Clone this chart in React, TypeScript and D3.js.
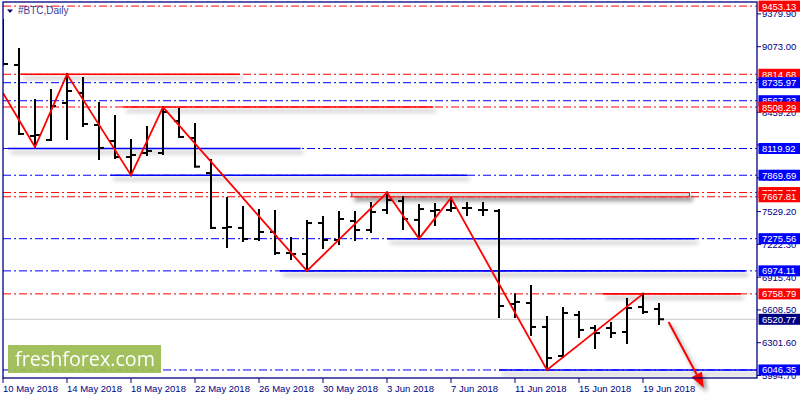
import React from 'react';
import * as d3 from 'd3';

// daily OHLC, 10 May 2018 .. 20 Jun 2018
const opens = [9230, 8902, 8237, 8200, 8546, 8640, 8340, 8190, 8040, 8078, 8078, 8377, 8218, 7890, 7376, 7376, 7273, 7338, 7141, 7132, 7422, 7263, 7441, 7357, 7544, 7628, 7451, 7535, 7544, 7563, 7544, 7535, 6664, 6673, 6449, 6177, 6561, 6439, 6439, 6402, 6636, 6617];
const highs = [9323, 9051, 8574, 8668, 8814, 8780, 8546, 8424, 8200, 8321, 8508, 8490, 8349, 8012, 7657, 7572, 7544, 7535, 7282, 7441, 7479, 7525, 7525, 7610, 7707, 7666, 7591, 7600, 7657, 7610, 7610, 7544, 6755, 6833, 6542, 6627, 6589, 6458, 6486, 6711, 6759, 6664];
const lows = [8902, 8256, 8134, 8200, 8209, 8331, 8022, 8031, 7870, 8059, 8068, 8228, 7950, 7376, 7198, 7254, 7263, 7132, 7085, 6974, 7188, 7226, 7263, 7338, 7516, 7366, 7276, 7404, 7535, 7497, 7497, 6542, 6542, 6374, 6046, 6168, 6355, 6252, 6355, 6299, 6580, 6477];
const closes = [8911, 8256, 8246, 8518, 8658, 8349, 8125, 8040, 8059, 8097, 8462, 8228, 7950, 7376, 7385, 7273, 7338, 7141, 7132, 7422, 7263, 7460, 7357, 7525, 7638, 7460, 7553, 7544, 7563, 7563, 7544, 6645, 6683, 6449, 6158, 6580, 6421, 6392, 6392, 6626, 6589, 6521];

// one label every 4 bars
const xTickLabels = ['10 May 2018', '14 May 2018', '18 May 2018', '22 May 2018', '26 May 2018', '30 May 2018', '3 Jun 2018', '7 Jun 2018', '11 Jun 2018', '15 Jun 2018', '19 Jun 2018'];
const yTickLabels = [9379.9, 9073.0, 8766.1, 8459.2, 8152.3, 7845.4, 7529.2, 7222.3, 6915.4, 6608.5, 6301.6, 5994.7];

// horizontal levels
const levelPrices = [9453.13, 8814.68, 8735.97, 8567.23, 8508.29, 8119.92, 7869.69, 7707.37, 7667.81, 7275.56, 6974.11, 6758.79, 6046.35];
const levelColors = ['red', 'red', 'blue', 'blue', 'red', 'blue', 'blue', 'red', 'red', 'blue', 'blue', 'red', 'blue'];

// solid trend segments on some of the levels (bar index from..to)
const segPrices = [8814.68, 8508.29, 8119.92, 7869.69, 7275.56, 6974.11, 6758.79, 6046.35];
const segColors = ['red', 'red', 'blue', 'blue', 'blue', 'blue', 'red', 'blue'];
const segFrom = [1.1, 7.5, 0.3, 6.7, 24, 17.3, 37.5, 31];
const segTo = [14.8, 26.9, 18.6, 29, 43.25, 46.4, 46.1, 47.1];

// rectangle zone
const zoneTop = 7707.37;
const zoneBottom = 7667.81;
const zoneFrom = 21.8;
const zoneTo = 42.9;

// zigzag pivots
const zigIdx = [0, 2, 4, 8, 10, 19, 24, 26, 28, 34, 40];
const zigPrice = [8640, 8134, 8814, 7870, 8508, 6974, 7707, 7276, 7657, 6046, 6759];

// forecast arrow
const arrowIdx = [41.6, 43.8];
const arrowPrice = [6495, 5880];

const currentPrice = 6520.77;

const left = 3;
const right = 757;
const top = 2;
const bottom = 378;

const x = d3.scaleLinear().domain([0, 41]).range([3, 659]);
const y = d3.scaleLinear().domain([6301.6, 9073]).range([342.7, 46.7]);

const navy = '#000080';
const dashDot = '8,3,2,3';
const font = '"Liberation Sans", Arial, sans-serif';

const App = () => {
  const ax = x(arrowIdx[0]);
  const ay = y(arrowPrice[0]);
  const bx = x(arrowIdx[1]);
  const by = y(arrowPrice[1]);
  const ang = Math.atan2(by - ay, bx - ax);
  const headLen = 15;
  const headW = 6;
  const hx = bx - headLen * Math.cos(ang);
  const hy = by - headLen * Math.sin(ang);
  const head = [
    [bx, by],
    [hx + headW * Math.sin(ang), hy - headW * Math.cos(ang)],
    [hx - headW * Math.sin(ang), hy + headW * Math.cos(ang)],
  ];

  const zig = d3
    .line<number>()
    .x((d) => x(zigIdx[d]))
    .y((d) => y(zigPrice[d]));

  return (
    <svg width={800} height={400} style={{ position: 'absolute', left: 0, top: 0, background: '#fff' }}>
      <defs>
        <clipPath id="plot">
          <rect x={left} y={top} width={right - left} height={bottom - top} />
        </clipPath>
        <filter id="shadow" filterUnits="userSpaceOnUse" x={0} y={0} width={800} height={400}>
          <feDropShadow dx={3} dy={4} stdDeviation={2} floodColor="#000" floodOpacity={0.42} />
        </filter>
      </defs>
      <rect x={0} y={0} width={800} height={400} fill="#fff" />

      <g clipPath="url(#plot)">
        {/* dash-dot levels */}
        {levelPrices.map((p, i) => (
          <line key={'lv' + i} x1={left} x2={right} y1={y(p)} y2={y(p)} stroke={levelColors[i]} strokeDasharray={dashDot} strokeWidth={1} />
        ))}
        <line x1={left} x2={right} y1={y(currentPrice)} y2={y(currentPrice)} stroke="#c8c8c8" strokeWidth={1} />

        {/* solid segments */}
        {segPrices.map((p, i) => (
          <line key={'sg' + i} x1={x(segFrom[i])} x2={x(segTo[i])} y1={y(p)} y2={y(p)} stroke={segColors[i]} strokeWidth={1.6} filter="url(#shadow)" />
        ))}
        <rect
          x={x(zoneFrom)}
          y={y(zoneTop)}
          width={x(zoneTo) - x(zoneFrom)}
          height={y(zoneBottom) - y(zoneTop)}
          fill="#dcdcdc"
          stroke="red"
          strokeWidth={1}
          filter="url(#shadow)"
        />

        {/* bars */}
        {opens.map((o, i) => {
          const cx = x(i);
          return (
            <g key={'b' + i} stroke="#000" strokeWidth={2}>
              <line x1={cx} x2={cx} y1={y(highs[i]) - 1} y2={y(lows[i]) + 1} />
              <line x1={cx - 5} x2={cx} y1={y(o)} y2={y(o)} />
              <line x1={cx} x2={cx + 5} y1={y(closes[i])} y2={y(closes[i])} />
            </g>
          );
        })}

        <path d={zig(d3.range(zigIdx.length)) || ''} fill="none" stroke="red" strokeWidth={1.8} />
      </g>

      {/* arrow */}
      <g filter="url(#shadow)">
        <line x1={ax} y1={ay} x2={hx} y2={hy} stroke="red" strokeWidth={2} />
        <polygon points={head.map((d) => d.join(',')).join(' ')} fill="red" />
      </g>

      {/* logo */}
      <g opacity={0.92}>
        <rect x={8} y={345} width={153} height={28} fill="#9bbb50" />
        <text x={15} y={366} fill="#fff" fontSize={20} fontFamily='"Open Sans", "DejaVu Sans", sans-serif' textLength={140} lengthAdjust="spacingAndGlyphs">
          freshforex.com
        </text>
      </g>

      {/* frame */}
      <rect x={left} y={top} width={right - left} height={bottom - top} fill="none" stroke={navy} strokeWidth={1.3} />

      {/* header */}
      <polygon points="7,9.5 13,9.5 10,13" fill={navy} />
      <text x={18} y={14} fontSize={10} fontFamily={font} fill="#3a3a9a">
        #BTC,Daily
      </text>

      {/* x axis */}
      {xTickLabels.map((t, i) => (
        <g key={'xt' + i}>
          <line x1={x(i * 4)} x2={x(i * 4)} y1={bottom} y2={bottom + 5} stroke={navy} strokeWidth={1} />
          <text x={x(i * 4)} y={392} fontSize={9.5} fontFamily={font} fill={navy}>
            {t}
          </text>
        </g>
      ))}

      {/* y axis */}
      {yTickLabels.map((t, i) => (
        <g key={'yt' + i}>
          <line x1={right} x2={right + 4} y1={y(t)} y2={y(t)} stroke={navy} strokeWidth={1} />
          <text x={762} y={y(t) + 3.5} fontSize={9.5} fontFamily={font} fill={navy}>
            {t.toFixed(2)}
          </text>
        </g>
      ))}

      {/* level price boxes */}
      {levelPrices.map((p, i) => (
        <g key={'lb' + i}>
          <rect x={758.5} y={y(p) - 5.5} width={41.5} height={11} fill={levelColors[i] === 'red' ? '#ff0000' : '#0000ff'} />
          <text x={762} y={y(p) + 3.5} fontSize={9.5} fontFamily={font} fill="#fff">
            {p.toFixed(2)}
          </text>
        </g>
      ))}
      <rect x={758.5} y={y(currentPrice) - 5.5} width={41.5} height={11} fill={navy} />
      <text x={762} y={y(currentPrice) + 3.5} fontSize={9.5} fontFamily={font} fill="#fff">
        {currentPrice.toFixed(2)}
      </text>
    </svg>
  );
};

export default App;
